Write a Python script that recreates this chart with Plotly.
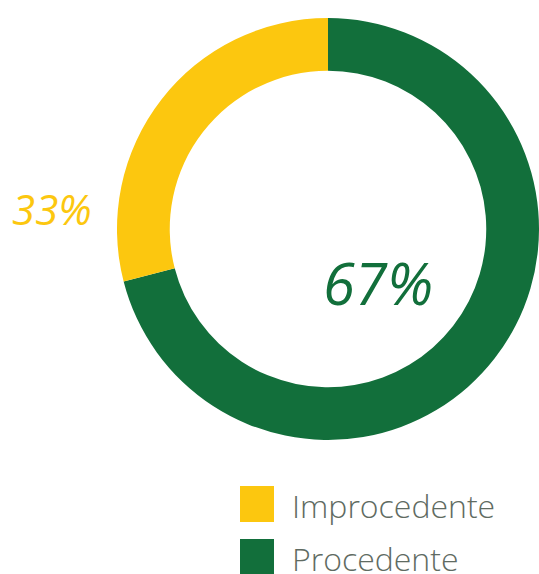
import plotly.graph_objects as go

# Data
labels = ["Improcedente", "Procedente"]
slice_values = [29, 71]          # visual share of the ring as drawn
value_labels = ["33%", "67%"]     # printed percentages
colors = ["#FCC70F", "#126F3B"]

W, H = 539, 574

fig = go.Figure()
fig.add_trace(go.Pie(
    labels=labels[::-1],
    values=slice_values[::-1],
    hole=0.75,
    sort=False,
    direction="clockwise",
    rotation=0,
    marker=dict(colors=colors[::-1], line=dict(width=0)),
    textinfo="none",
    hoverinfo="label+percent",
    showlegend=False,
    domain=dict(x=[117 / W, 1.0], y=[134 / H, 556 / H]),
))

# percentage labels
label_pos = [(52, 208, 42), (378, 282, 58)]
for txt, col, (px, py, fs) in zip(value_labels, colors, label_pos):
    fig.add_annotation(
        x=px / W, y=1 - py / H, xref="paper", yref="paper",
        text=txt, showarrow=False, xanchor="center", yanchor="middle",
        font=dict(family="Open Sans", size=fs, color=col, style="italic"),
    )

# custom legend
for i, (lab, col) in enumerate(zip(labels, colors)):
    top = 486 + i * 53
    fig.add_shape(
        type="rect", xref="paper", yref="paper",
        x0=240 / W, x1=274 / W, y0=1 - (top + 36) / H, y1=1 - top / H,
        fillcolor=col, line=dict(width=0),
    )
    fig.add_annotation(
        x=290 / W, y=1 - (top + 19) / H, xref="paper", yref="paper",
        text=lab, showarrow=False, xanchor="left", yanchor="middle",
        font=dict(family="Open Sans", size=32, color="#5F6B62", weight=300),
    )

fig.update_layout(
    width=W, height=H,
    margin=dict(l=0, r=0, t=0, b=0),
    paper_bgcolor="white", plot_bgcolor="white",
)

fig.write_html(
    "out.html",
    config={"displayModeBar": False},
    post_script="document.body.style.margin='0';document.body.style.overflow='hidden';",
)
